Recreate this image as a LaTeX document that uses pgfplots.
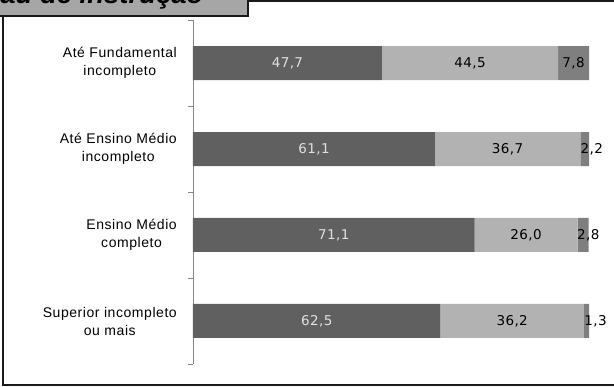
\documentclass[border=0pt]{standalone}
\usepackage{pgfplots}
\pgfplotsset{compat=1.18}
\usepackage{pgfplotstable}
\usepackage{fontspec}
\setmainfont{Liberation Sans}
\newfontfamily\valfont[LetterSpace=3]{DejaVu Sans}
\newfontfamily\labfont[LetterSpace=4]{Liberation Sans}
\definecolor{cdark}{HTML}{606060}
\definecolor{clight}{HTML}{B2B2B2}
\definecolor{cmid}{HTML}{7F7F7F}
\definecolor{ctitle}{HTML}{A6A6A6}
\definecolor{caxis}{HTML}{868686}

% a = dark, b = light, c = mid ; dx = label nudge (axis units) for small segments
\pgfplotstableread{
y a b c dx
0 47.7 44.5 7.8 0
1 61.1 36.7 2.2 1.8
2 71.1 26.0 2.8 1.3
3 62.5 36.2 1.3 2.3
}\data

\pgfplotsset{
  geom/.style={
    at={(193pt,23pt)}, anchor=south west,
    scale only axis, width=396pt, height=344pt,
    xmin=0, xmax=100, ymin=-0.5, ymax=3.5,
    y dir=reverse, clip=false,
  },
  vlab/.style={
    only marks, mark=*, mark size=0.1pt,
    mark options={draw opacity=0, fill opacity=0},
    point meta=explicit,
    nodes near coords={\valfont\fontsize{13.5}{16}\selectfont\pgfmathprintnumber[fixed,fixed zerofill,precision=1,use comma,assume math mode=true]{\pgfplotspointmeta}},
    every node near coord/.append style={anchor=center, inner sep=0pt, text=#1, opacity=1},
  },
}

\begin{document}
\begin{tikzpicture}[x=1pt,y=1pt]
\useasboundingbox (0,0) rectangle (614,387);
\draw[line width=1.6pt, black!90] (3,386) -- (3,2) -- (700,2);
\draw[line width=1.6pt, black!90] (3,386) -- (700,386);
\begin{axis}[
  geom,
  xbar stacked, bar width=34pt,
  axis x line=none, axis y line*=left,
  y axis line style={caxis, line width=0.8pt},
  ytick={0,1,2,3},
  yticklabels={{Até Fundamental\\incompleto},{Até Ensino Médio\\incompleto},{Ensino Médio\\completo},{Superior incompleto\\ou mais}},
  major tick length=0pt,
  minor ytick={-0.5,0.5,1.5,2.5,3.5},
  minor tick length=5pt,
  tick align=outside,
  minor tick style={caxis, line width=0.8pt},
  yticklabel style={align=center, inner sep=0pt, xshift=-16pt, font=\labfont\fontsize{14}{18}\selectfont},
]
\addplot[fill=cdark, draw=none] table[x=a, y=y] {\data};
\addplot[fill=clight, draw=none] table[x=b, y=y] {\data};
\addplot[fill=cmid, draw=none] table[x=c, y=y] {\data};
\end{axis}
\begin{axis}[geom, hide axis]
\addplot[vlab=white!88!black] table[x expr=\thisrow{a}/2, y=y, meta=a] {\data};
\addplot[vlab=black] table[x expr=\thisrow{a}+\thisrow{b}/2, y=y, meta=b] {\data};
\addplot[vlab=black] table[x expr=\thisrow{a}+\thisrow{b}+\thisrow{c}/2+\thisrow{dx}, y=y, meta=c] {\data};
\end{axis}
\draw[line width=1.6pt, black!90, fill=ctitle] (-5,371) rectangle (248,420);
\node[anchor=base west, inner sep=0pt, font=\bfseries\itshape\fontsize{27.5}{30}\selectfont] at (-32,383.5) {Grau de instrução};
\end{tikzpicture}
\end{document}
